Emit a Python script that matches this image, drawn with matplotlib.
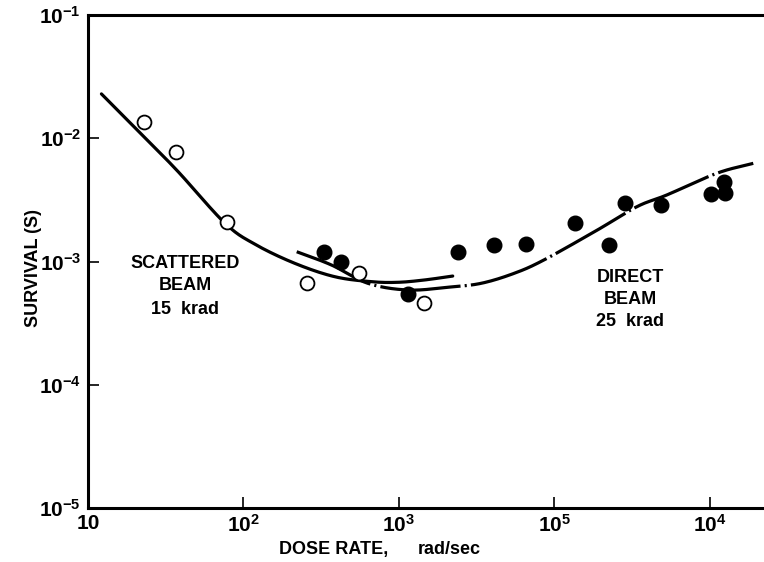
import matplotlib
matplotlib.use("Agg")
import matplotlib.pyplot as plt
import numpy as np

plt.rcParams['font.family'] = ['Liberation Sans', 'DejaVu Sans']
plt.rcParams['font.weight'] = 'bold'
plt.rcParams['mathtext.fontset'] = 'custom'
plt.rcParams['mathtext.rm'] = 'Liberation Sans:bold'
plt.rcParams['mathtext.bf'] = 'Liberation Sans:bold'
plt.rcParams['mathtext.it'] = 'Liberation Sans:bold'
plt.rcParams['lines.scale_dashes'] = False

# Scattered beam (open circles)
scat_x = [23.0, 36.8, 78.2, 258, 557, 1452]
scat_y = [0.01355, 0.00773, 0.00209, 6.7e-4, 8.07e-4, 4.6e-4]

# Direct beam (filled circles)
dir_x = [332, 427, 1148, 2399, 4083, 6546, 13490, 22600, 28250, 48750, 102000, 123600, 125600]
dir_y = [1.19e-3, 9.9e-4, 5.44e-4, 1.19e-3, 1.36e-3, 1.39e-3, 2.05e-3, 1.36e-3,
         2.99e-3, 2.87e-3, 3.53e-3, 4.42e-3, 3.60e-3]

# Scattered-beam fitted curve (solid)
fitA_x = [12.2, 24.6, 38.3, 76.2, 118.6, 214, 386, 664, 986, 1459, 2218]
fitA_y = [0.0229, 9.4e-3, 5.3e-3, 2.04e-3, 1.38e-3, 9.66e-4, 7.53e-4, 6.86e-4,
          6.78e-4, 7.08e-4, 7.62e-4]

# Direct-beam fitted curve (dash-dot)
fitB_x = [220, 368, 632, 1143, 2061, 3373, 5512, 8575, 18880, 34040, 52970, 110900, 190100]
fitB_y = [1.20e-3, 9.37e-4, 6.65e-4, 5.87e-4, 6.18e-4, 6.65e-4, 8.02e-4, 1.03e-3,
          1.80e-3, 2.79e-3, 3.47e-3, 5.20e-3, 6.26e-3]

xtick_vals = [10, 1e2, 1e3, 1e4, 1e5]
xtick_labels = ['10', r'$10^{2}$', r'$10^{3}$', r'$10^{5}$', r'$10^{4}$']
ytick_vals = [1e-5, 1e-4, 1e-3, 1e-2, 1e-1]
ytick_labels = [r'$10^{-5}$', r'$10^{-4}$', r'$10^{-3}$', r'$10^{-2}$', r'$10^{-1}$']


def smooth(xs, ys):
    lx = np.log10(xs)
    ly = np.log10(ys)
    pts = np.column_stack([lx, ly])
    out = []
    P = np.vstack([pts[0] - (pts[1] - pts[0]), pts, pts[-1] + (pts[-1] - pts[-2])])
    for i in range(1, len(P) - 2):
        p0, p1, p2, p3 = P[i - 1], P[i], P[i + 1], P[i + 2]
        for s in np.linspace(0, 1, 20, endpoint=False):
            s2, s3 = s * s, s * s * s
            out.append(0.5 * ((2 * p1) + (-p0 + p2) * s + (2 * p0 - 5 * p1 + 4 * p2 - p3) * s2
                              + (-p0 + 3 * p1 - 3 * p2 + p3) * s3))
    out.append(pts[-1])
    out = np.array(out)
    return 10 ** out[:, 0], 10 ** out[:, 1]


def px2x(px):
    return 10 ** (1 + (px - 85.7) / 156)


def py2y(py):
    return 10 ** (-1 - (py - 15) / 123.25)


fig = plt.figure(figsize=(7.64, 5.62), dpi=100)
ax = fig.add_axes([88 / 764, 54 / 562, 1 - 88 / 764, 493 / 562])
ax.set_xscale('log')
ax.set_yscale('log')
ax.set_xlim(px2x(88), px2x(764))
ax.set_ylim(1e-5, 1e-1)

ax_x, ax_y = smooth(fitA_x, fitA_y)
ax.plot(ax_x, ax_y, color='black', lw=2.3, solid_capstyle='round')
bx, by = smooth(fitB_x, fitB_y)
ax.plot(bx, by, color='black', lw=2.3, linestyle=(0, (58, 3, 1.5, 3)))

ax.plot(scat_x, scat_y, 'o', ms=10, mfc='white', mec='black', mew=1.3, zorder=5)
ax.plot(dir_x, dir_y, 'o', ms=10.5, mfc='black', mec='black', zorder=5)

ax.set_xticks(xtick_vals)
ax.set_xticklabels(xtick_labels)
ax.set_yticks(ytick_vals)
ax.set_yticklabels(ytick_labels)
ax.minorticks_off()
ax.tick_params(axis='both', direction='in', length=8, width=1.2, labelsize=15, colors='black')
ax.tick_params(axis='y', pad=5)
ax.tick_params(axis='x', pad=4)

for s in ['left', 'bottom', 'top']:
    ax.spines[s].set_linewidth(2.2)
ax.spines['right'].set_visible(False)

fig.text(33 / 764, 1 - 268 / 562, 'SURVIVAL (S)', rotation=90, ha='center', va='center',
         fontsize=13, fontweight='bold')
fig.text(279 / 764, 1 - 554 / 562, 'DOSE RATE,', ha='left', va='baseline', fontsize=13,
         fontweight='bold')
fig.text(418 / 764, 1 - 554 / 562, 'rad/sec', ha='left', va='baseline', fontsize=13,
         fontweight='bold')

for txt, py in [('SCATTERED', 264), ('BEAM', 286), ('15  krad', 309)]:
    ax.text(px2x(183), py2y(py), txt, ha='center', va='center', fontsize=13, fontweight='bold')

for txt, py in [('DIRECT', 278), ('BEAM', 300), ('25  krad', 322)]:
    ax.text(px2x(630), py2y(py), txt, ha='center', va='center', fontsize=13, fontweight='bold')

fig.savefig('out.png', dpi=100)
